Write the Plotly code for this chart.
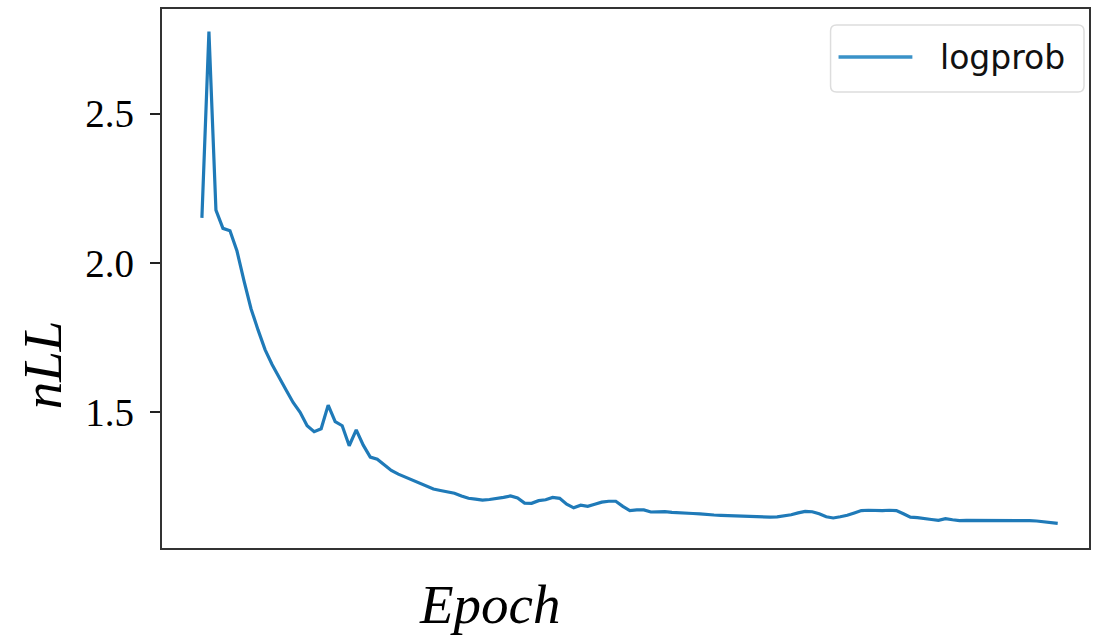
import plotly.graph_objects as go

# Training loss per epoch (negative log-likelihood)
epochs = list(range(123))
nll = [
    2.151, 2.775, 2.177, 2.116, 2.108, 2.040, 1.940, 1.847, 1.776, 1.710,
    1.660, 1.620, 1.575, 1.533, 1.500, 1.455, 1.435, 1.445, 1.524, 1.469,
    1.455, 1.388, 1.441, 1.390, 1.350, 1.343, 1.325, 1.305, 1.293, 1.283,
    1.273, 1.262, 1.252, 1.243, 1.238, 1.234, 1.229, 1.220, 1.212, 1.209,
    1.206, 1.208, 1.211, 1.215, 1.220, 1.213, 1.196, 1.195, 1.204, 1.207,
    1.215, 1.212, 1.192, 1.180, 1.189, 1.185, 1.192, 1.199, 1.202, 1.202,
    1.185, 1.171, 1.173, 1.173, 1.166, 1.167, 1.167, 1.165, 1.163, 1.162,
    1.161, 1.160, 1.157, 1.156, 1.155, 1.154, 1.153, 1.153, 1.152, 1.150,
    1.149, 1.149, 1.150, 1.153, 1.157, 1.163, 1.168, 1.167, 1.160, 1.150,
    1.146, 1.150, 1.155, 1.163, 1.171, 1.172, 1.171, 1.171, 1.172, 1.171,
    1.160, 1.149, 1.147, 1.145, 1.141, 1.138, 1.144, 1.140, 1.137, 1.138,
    1.138, 1.139, 1.138, 1.137, 1.138, 1.139, 1.139, 1.138, 1.137, 1.136,
    1.134, 1.131, 1.128,
]
y_ticks = [1.5, 2.0, 2.5]
series_name = "logprob"
line_color = "#1f7ab8"

W, H = 1094, 638
ML, MR, MT, MB = 162, 3, 9, 90

fig = go.Figure()
fig.add_trace(go.Scatter(
    x=epochs, y=nll, mode="lines", name=series_name,
    line=dict(color=line_color, width=3.2), showlegend=False,
))

fig.update_layout(
    width=W, height=H,
    margin=dict(l=ML, r=MR, t=MT, b=MB),
    paper_bgcolor="white", plot_bgcolor="white",
    xaxis=dict(
        range=[-5.69, 126.46], showgrid=False, zeroline=False,
        showticklabels=False, ticks="",
        showline=True, linecolor="#333333", linewidth=2.2, mirror=True,
    ),
    yaxis=dict(
        range=[1.0455, 2.8507], showgrid=False, zeroline=False,
        tickvals=y_ticks, ticktext=[f"{v:.1f}" for v in y_ticks],
        ticks="outside", ticklen=10, tickwidth=2, tickcolor="#222222",
        ticklabelstandoff=8,
        tickfont=dict(family="Liberation Serif", size=39, color="black"),
        showline=True, linecolor="#333333", linewidth=2.2, mirror=True,
    ),
)

# Axis titles (italic serif)
fig.add_annotation(
    text="<i>Epoch</i>", xref="paper", yref="paper",
    x=(491 - ML) / (W - ML - MR), y=-(604 - (H - MB)) / (H - MT - MB),
    xanchor="center", yanchor="middle", showarrow=False,
    font=dict(family="Liberation Serif", size=55, color="black"),
)
fig.add_annotation(
    text="<i>nLL</i>", xref="paper", yref="paper",
    x=-(ML - 42) / (W - ML - MR), y=((H - MB) - 365) / (H - MT - MB),
    xanchor="center", yanchor="middle", textangle=-90, showarrow=False,
    font=dict(family="Liberation Serif", size=55, color="black"),
)

# Legend box with a line sample and the series label
def px_x(p):
    return (p - ML) / (W - ML - MR)

def px_y(p):
    return ((H - MB) - p) / (H - MT - MB)

x0, x1, y0, y1, r = 832, 1086, 25, 92, 6
path = (
    f"M {px_x(x0 + r)} {px_y(y0)} L {px_x(x1 - r)} {px_y(y0)} "
    f"Q {px_x(x1)} {px_y(y0)} {px_x(x1)} {px_y(y0 + r)} "
    f"L {px_x(x1)} {px_y(y1 - r)} Q {px_x(x1)} {px_y(y1)} {px_x(x1 - r)} {px_y(y1)} "
    f"L {px_x(x0 + r)} {px_y(y1)} Q {px_x(x0)} {px_y(y1)} {px_x(x0)} {px_y(y1 - r)} "
    f"L {px_x(x0)} {px_y(y0 + r)} Q {px_x(x0)} {px_y(y0)} {px_x(x0 + r)} {px_y(y0)} Z"
)
fig.add_shape(type="path", path=path, xref="paper", yref="paper",
              line=dict(color="#dddddd", width=1.5), fillcolor="rgba(255,255,255,0.9)")
fig.add_shape(type="line", xref="paper", yref="paper",
              x0=px_x(840), x1=px_x(914), y0=px_y(57), y1=px_y(57),
              line=dict(color="#3a92c8", width=3.5))
fig.add_annotation(
    text=series_name, xref="paper", yref="paper",
    x=px_x(940), y=px_y(57), xanchor="left", yanchor="middle", showarrow=False,
    font=dict(family="DejaVu Sans", size=33, color="#111111"),
)

fig.write_html("out.html")
